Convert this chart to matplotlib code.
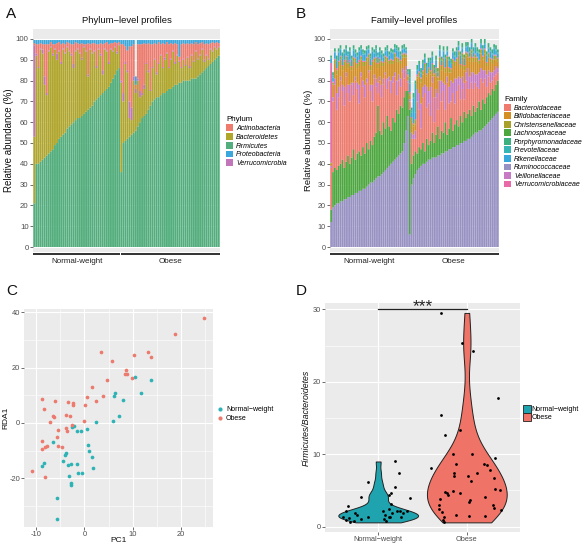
import numpy as np
import matplotlib
matplotlib.use("Agg")
import matplotlib.pyplot as plt
from matplotlib.patches import Patch
from matplotlib.lines import Line2D
import matplotlib.transforms as mtransforms
from matplotlib.ticker import MultipleLocator

plt.rcParams['font.family'] = ['Liberation Sans', 'DejaVu Sans']
plt.rcParams['axes.unicode_minus'] = False

# ------------------------------------------------------------------ data
group_labels = ["Normal-weight", "Obese"]
group_labels_minus = ["Normal\u2212weight", "Obese"]

# ---- Panel A: phylum-level profiles (% per sample; normal-weight then obese)
firmicutes_nw = [21,40,40,41,42,43,44,45,46,47,49,50,52,53,54,55,57,58,59,60,61,62,62,63,64,65,66,67,68,70,71,72,73,74,75,76,77,79,81,83,85,86]
bacteroidetes_nw = [32,52,46,54,51,35,29,49,50,45,46,40,42,35,41,38,39,36,33,26,33,33,31,27,32,29,16,28,25,24,15,23,19,9,20,18,11,16,13,13,8,11]
verrucomicrobia_nw = [44,1,0.5,0.5,2,4,1,0.5,0.5,1,0.5,3,0.5,1,0.5,0.5,0.5,0.5,1,2,0.5,0.5,0.5,1,0.5,0.5,1,0.5,0.5,0.5,1,0.5,1,2,0.5,0.5,1,0.5,0.5,0.5,1,0.5]
actinobacteria_nw = [1,4.5,11,2.5,2.5,15.5,23.5,3,2,4.5,2,5,4,8.5,2.5,4,2,3.5,4.5,9.5,4,2.5,4,7,1,3,15,2,4.5,3.5,10.5,2,5,12.5,2.5,4,8.5,2.5,3.5,2,4,1]
proteobacteria_nw = [1.5,2,2,1.5,2,2,2,2,1,2,2,1.5,1,2,1.5,2,1,1.5,2,2,1,1.5,2,1.5,2,2,1.5,2,1.5,1.5,2,2,1.5,2,1.5,1,2,1.5,1.5,1,1.5,1]

firmicutes_ob = [36,50,51,52,53,54,55,56,58,60,62,63,64,66,68,70,71,72,72,73,74,74,75,76,76,77,78,78,79,79,80,80,80,80,81,81,81,82,83,84,85,86,87,88,89,90,91,92]
bacteroidetes_ob = [43,20,37,32,9,7,25,18,22,12,11,13,24,18,7,16,19,11,16,19,12,16,18,10,14,17,10,14,10,7,10,7,11,6,11,8,13,8,9,11,4,6,3,7,5,6,4,4]
verrucomicrobia_ob = [1,4,1,1,8,6,2,2,1,3,1,2,0.5,1,0.5,0.5,0.5,1,0.5,0.5,0.5,1,0.5,0.5,0.5,0.5,1,0.5,0.5,0.5,0.5,0.5,0.5,1,0.5,0.5,0.5,0.5,0.5,0.5,1,0.5,0.5,0.5,0.5,0.5,0.5,0.5]
actinobacteria_ob = [17.5,23.5,7.5,9.5,26.5,29.5,15.5,2,16.5,22.5,23.5,20,9,13,22,11,7.5,13.5,10,5,11.5,6.5,5,11,7.5,3,9,5,2,11,7.5,10,6.5,10.5,5.5,8,4,7,5.5,3,7.5,5.5,7,2.5,4,1.5,3,1.5]
proteobacteria_ob = [2,2,3,5,3,3,2,4,2,2,2,1.5,2,1.5,2,2,1.5,2,1,2,1.5,2,1,2,1.5,2,1.5,2,8,2,1.5,2,1.5,2,1.5,2,1,2,1.5,1,2,1.5,2,1.5,1,1.5,1,1.5]

phyla = ["Actinobacteria", "Bacteroidetes", "Firmicutes", "Proteobacteria", "Verrucomicrobia"]
phylum_colors = {"Actinobacteria": "#EE7B6E", "Bacteroidetes": "#B0A62C", "Firmicutes": "#52AE7C",
                 "Proteobacteria": "#3AA8DC", "Verrucomicrobia": "#C276BA"}

# ---- Panel B: family-level profiles (% per sample)
ruminococcaceae_nw = [12,19,20,21,21,22,22,23,23,24,24,25,25,26,26,27,27,28,28,29,30,31,31,32,33,34,34,35,36,37,38,39,40,41,42,43,44,45,46,50,56,63]
lachnospiraceae_nw = [6,17,18,16,18,18,20,15,18,20,16,18,22,16,19,19,17,20,17,21,17,20,18,21,22,34,22,19,24,20,25,19,16,21,18,23,20,23,21,22,19,12]
bacteroidaceae_nw = [20,34,40,29,33,40,33,30,41,30,30,35,26,38,31,23,38,29,27,29,37,24,21,28,22,6,24,18,18,26,13,22,18,17,22,7,16,9,17,9,10,4]
veillonellaceae_nw = [1,2,3,8,5,2,3,9,2,4,8,1,6,2,3,9,2,3,6,2,1,3,8,2,4,5,2,6,3,1,5,2,6,3,2,7,3,4,2,4,2,1]
bifidobacteriaceae_nw = [1,6,7,9,10,8,7,10,6,8,9,6,10,7,7,9,6,7,9,8,6,7,9,6,8,7,7,9,6,6,8,6,8,6,7,9,6,7,5,6,4,2]
christensenellaceae_nw = [0.5,1,2,2,2,1.5,2,2,1.5,2,2,1.5,2,1.5,2,2,1.5,2,2,2,1.5,2,2,1.5,2,2,1.5,2,1.5,1.5,2,1.5,2,1.5,2,2,1.5,1.5,1.5,2,1.5,0.5]
verrucomicrobiaceae_nw = [48,0.5,0.5,1,0.5,0.5,0.5,1,0.5,0.5,1,0.5,0.5,0.5,0.5,1,0.5,0.5,0.5,0.5,0.5,0.5,1,0.5,0.5,0.5,0.5,0.5,0.5,0.5,0.5,0.5,0.5,0.5,0.5,0.5,0.5,0.5,0.5,0.5,0.5,0.5]
rikenellaceae_nw = [2,2,3,3,4,3,3,3,3,3,4,3,3,2,3,4,3,3,3,3,2,3,4,2,3,3,3,3,2,2,3,2,3,3,2,3,3,2,2,2,1.5,1]
prevotellaceae_nw = [0.5,1,0.5,1,0.5,0.5,1,0.5,0.5,1,0.5,0.5,1,0.5,0.5,0.5,0.5,1,0.5,0.5,0.5,1,0.5,0.5,1,0.5,0.5,0.5,0.5,0.5,1,0.5,0.5,0.5,0.5,1,0.5,0.5,0.5,0.5,0.5,0.5]
porphyromonadaceae_nw = [1,1.5,1.5,2,1.5,1.5,2,1.5,1.5,1.5,1.5,1.5,1.5,1.5,1.5,1.5,1.5,1.5,1.5,1.5,1.5,1.5,1.5,1.5,1.5,1.5,1.5,1.5,1.5,1.5,1.5,1.5,1.5,1.5,1.5,1.5,1.5,1.5,1.5,1.5,1,1]

ruminococcaceae_ob = [6,30,33,35,37,38,39,40,40,41,42,42,43,43,43,44,44,45,45,46,46,47,47,48,48,49,49,50,50,51,51,52,52,53,54,55,55,56,56,57,58,59,60,61,62,63,64,65]
lachnospiraceae_ob = [60,10,11,11,8,10,8,10,6,11,7,9,12,7,11,14,8,11,10,14,8,10,15,8,11,12,9,13,10,14,11,12,14,10,14,10,12,14,10,14,11,13,14,12,14,12,14,15]
bacteroidaceae_ob = [4,12,8,6,25,18,10,22,28,15,20,12,24,10,18,8,22,14,20,6,25,12,8,18,10,14,20,8,16,6,18,12,10,16,8,14,10,6,15,8,12,5,8,6,4,7,5,4]
veillonellaceae_ob = [1,3,2,4,6,8,12,5,4,10,6,14,3,12,4,8,6,10,4,12,3,8,10,5,12,6,4,10,6,8,4,10,6,5,8,4,6,8,5,6,4,6,3,5,4,3,4,2]
bifidobacteriaceae_ob = [2,6,4,3,5,8,10,6,8,5,9,6,4,10,8,6,9,5,10,6,8,7,4,9,6,8,10,5,9,6,8,5,7,9,5,8,6,4,7,5,8,4,6,5,4,5,3,3]
christensenellaceae_ob = [0.5,1,1,2,1,2,2,1.5,2,1,2,1.5,2,1,2,1.5,2,2,1.5,2,1.5,2,1.5,2,2,1.5,2,1.5,2,2,1.5,2,2,1.5,2,1.5,2,1.5,2,1.5,2,1.5,2,1.5,2,2,2,1.5]
verrucomicrobiaceae_ob = [1,0.5,0.5,0.5,1,0.5,0.5,0.5,0.5,0.5,0.5,0.5,0.5,0.5,0.5,0.5,0.5,0.5,0.5,0.5,0.5,0.5,0.5,0.5,0.5,0.5,0.5,0.5,0.5,0.5,0.5,0.5,0.5,0.5,0.5,0.5,0.5,0.5,0.5,0.5,0.5,0.5,0.5,0.5,0.5,0.5,0.5,0.5]
rikenellaceae_ob = [4,2,12,3,2,3,2,3,2,3,2,4,3,2,3,2,3,2,3,4,2,3,2,3,2,3,2,4,2,3,2,3,2,3,2,3,2,3,2,3,2,3,2,3,2,3,2,2]
prevotellaceae_ob = [3,1,0.5,14,0.5,0.5,0.5,0.5,0.5,0.5,0.5,0.5,0.5,0.5,0.5,0.5,0.5,0.5,0.5,0.5,0.5,0.5,0.5,0.5,0.5,0.5,0.5,0.5,0.5,0.5,0.5,0.5,0.5,0.5,0.5,0.5,0.5,0.5,0.5,0.5,0.5,0.5,0.5,0.5,0.5,0.5,0.5,0.5]
porphyromonadaceae_ob = [4,1.5,2,1.5,2,1.5,2,1.5,2,1.5,2,1.5,2,1.5,2,1.5,2,1.5,2,1.5,2,1.5,2,1.5,2,1.5,2,1.5,2,1.5,2,1.5,2,1.5,2,1.5,2,1.5,2,1.5,2,1.5,2,1.5,2,1.5,2,1.5]

families = ["Bacteroidaceae", "Bifidobacteriaceae", "Christensenellaceae", "Lachnospiraceae",
            "Porphyromonadaceae", "Prevotellaceae", "Rikenellaceae", "Ruminococcaceae",
            "Veillonellaceae", "Verrucomicrobiaceae"]
family_colors = {"Bacteroidaceae": "#EE7B6E", "Bifidobacteriaceae": "#D48E22",
                 "Christensenellaceae": "#A8A22C", "Lachnospiraceae": "#4CA83E",
                 "Porphyromonadaceae": "#3DB07F", "Prevotellaceae": "#35B5B6",
                 "Rikenellaceae": "#36A8DC", "Ruminococcaceae": "#9892C4",
                 "Veillonellaceae": "#C77BC4", "Verrucomicrobiaceae": "#E86AA8"}

# ---- Panel C: ordination (PC1 vs RDA1)
pc1_nw = [10.4,13.7,11.8,7.9,6.4,6.2,7.1,5.9,2.3,0.5,-0.7,-1.6,-2.1,-2.5,-6.6,-8.4,-8.8,-4.5,-4.0,-3.8,-3.5,-2.7,-1.6,0.7,0.9,1.6,1.8,-3.2,-1.4,-0.5,-2.8,-2.7,-5.7,-5.7]
rda1_nw = [16.8,15.6,10.8,8.4,10.8,9.8,2.4,0.7,0.2,-2.3,-2.9,-3.0,-1.2,-1.6,-6.8,-14.4,-15.7,-13.8,-11.6,-10.7,-15.1,-15.0,-14.8,-8.0,-10.2,-12.4,-16.2,-19.1,-18.2,-18.2,-21.6,-22.3,-27.0,-34.6]
pc1_ob = [24.7,18.8,13.2,13.8,10.3,3.5,5.7,8.6,8.4,8.9,9.8,4.7,1.6,3.8,2.3,0.6,0.1,0.0,-2.3,-2.3,-3.5,-6.0,-8.8,-8.4,-6.6,-6.2,-7.2,-3.8,-2.9,-3.9,-3.6,-2.5,-5.4,-5.7,-8.7,-8.7,-8.2,-7.7,-5.5,-4.7,-10.9,-8.2]
rda1_ob = [37.8,32.0,25.8,23.9,24.7,25.6,22.4,19.2,17.6,17.7,16.4,15.7,13.0,9.6,8.0,9.4,6.4,0.6,7.2,6.6,7.6,7.9,8.6,5.2,2.5,2.2,0.2,2.8,2.4,-1.9,-2.9,-0.7,-2.6,-5.2,-6.6,-9.4,-8.8,-8.2,-8.2,-8.6,-17.2,-19.4]

# ---- Panel D: Firmicutes/Bacteroidetes ratio (jittered x position, ratio)
fb_x_nw = [1.19,1.23,0.88,1.19,0.81,1.15,1.12,1.36,1.15,0.66,1.12,1.05,0.64,1.21,1.25,1.32,1.16,0.74,0.76,0.60,0.89,1.12,1.26,0.67,0.81,1.06,0.64,1.09,0.73,0.68,1.13,1.08,1.28]
fb_nw = [9.0,7.45,6.2,5.5,4.05,4.6,4.4,3.9,3.2,2.8,2.4,2.2,2.2,2.2,2.1,2.1,1.85,1.85,1.55,1.4,1.3,1.3,1.3,1.15,1.05,1.1,0.9,0.85,0.75,0.6,1.4,1.6,1.85]
fb_x_ob = [1.71,1.94,2.07,2.35,1.71,1.75,1.92,1.84,2.06,1.60,2.32,1.88,2.19,2.23,1.86,1.85,2.12,2.01,2.26,2.05,2.31,1.75,1.78,1.84,1.92,1.79,2.32,2.37,2.20,1.70,1.69,1.69,1.72,2.03,2.04,2.30,2.31,2.39,1.88,2.02,2.21,1.73,1.74,1.74]
fb_ob = [29.5,25.4,24.25,17.7,15.4,12.65,13.3,10.1,10.0,8.05,9.55,8.6,8.65,8.45,7.45,7.0,7.45,7.0,7.8,6.35,6.75,4.75,4.6,4.9,4.6,4.35,5.15,5.05,4.05,3.8,3.0,2.5,2.05,3.45,3.7,3.0,2.65,2.3,1.6,1.45,1.45,0.9,0.6,1.3]
group_colors_c = ["#2DB3B5", "#EC7A6D"]
group_colors_d = ["#1FA4AF", "#EF7366"]

# ------------------------------------------------------------------ style helpers
W, H = 585, 546
fig = plt.figure(figsize=(W / 100, H / 100), dpi=100)
PANEL_BG = "#EBEBEB"
TICK_COL = "#4D4D4D"


def fr(x0, y0, x1, y1):
    """pixel box (left, top, right, bottom) -> figure fraction rect"""
    return [x0 / W, 1 - y1 / H, (x1 - x0) / W, (y1 - y0) / H]


def gg_axes(rect, labelsize=5.6):
    ax = fig.add_axes(rect)
    ax.set_facecolor(PANEL_BG)
    for s in ax.spines.values():
        s.set_visible(False)
    ax.set_axisbelow(True)
    ax.tick_params(which='major', length=2, width=0.5, color='#333333', labelcolor=TICK_COL,
                   labelsize=labelsize, pad=1.2)
    ax.tick_params(which='minor', length=0)
    return ax


def grid(ax, axis='both'):
    ax.grid(which='major', axis=axis, color='white', lw=0.8)
    ax.grid(which='minor', axis=axis, color='white', lw=0.4)


# ------------------------------------------------------------------ stacked bar panels
def stacked_panel(ax, series, colors, order, n_nw):
    n = len(series[order[0]])
    x = np.arange(n)
    bottom = np.zeros(n)
    for name in order:
        vals = np.asarray(series[name], dtype=float)
        bars = ax.bar(x, vals, bottom=bottom, width=0.9, color=colors[name], linewidth=0)
        for b in bars:
            b.set_snap(False)
        bottom += vals
    ax.set_xlim(-0.6, n - 0.4)
    ax.set_ylim(-2.4, 104.8)
    ax.yaxis.set_major_locator(MultipleLocator(10))
    ax.yaxis.set_minor_locator(MultipleLocator(5))
    ax.set_xticks([])
    grid(ax, 'y')
    tr = mtransforms.blended_transform_factory(ax.transData, ax.transAxes)
    spans = [(-0.45, n_nw - 0.7), (n_nw - 0.3, n - 0.55)]
    for (a, b), lab in zip(spans, group_labels):
        ax.plot([a, b], [-0.011, -0.011], transform=tr, color='#222222', lw=1.3,
                clip_on=False, solid_capstyle='butt')
        ax.text((a + b) / 2, -0.026, lab, transform=tr, ha='center', va='top',
                fontsize=5.8, color='#222222')
    ax.set_ylabel("Relative abundance (%)", fontsize=7, labelpad=1.5, color='#111111')


axA = gg_axes(fr(33, 29, 220, 252))
phylum_series = {
    "Firmicutes": firmicutes_nw + firmicutes_ob,
    "Bacteroidetes": bacteroidetes_nw + bacteroidetes_ob,
    "Verrucomicrobia": verrucomicrobia_nw + verrucomicrobia_ob,
    "Actinobacteria": actinobacteria_nw + actinobacteria_ob,
    "Proteobacteria": proteobacteria_nw + proteobacteria_ob,
}
stacked_panel(axA, phylum_series, phylum_colors,
              ["Firmicutes", "Bacteroidetes", "Verrucomicrobia", "Actinobacteria", "Proteobacteria"],
              len(firmicutes_nw))
axA.set_title("Phylum\u2212level profiles", fontsize=6.8, pad=4, color='#111111')
fig.legend(handles=[Patch(facecolor=phylum_colors[p], edgecolor='none', label=p) for p in phyla],
           loc='upper left', bbox_to_anchor=(226 / W, 1 - 116 / H), frameon=False,
           title="Phylum", title_fontsize=5.8, prop={'size': 5.0, 'style': 'italic'},
           handlelength=1.05, handleheight=1.15, labelspacing=0.15, handletextpad=0.4,
           borderpad=0, borderaxespad=0, alignment='left')

axB = gg_axes(fr(330, 29, 499, 252), labelsize=5.2)
family_series = {
    "Ruminococcaceae": ruminococcaceae_nw + ruminococcaceae_ob,
    "Lachnospiraceae": lachnospiraceae_nw + lachnospiraceae_ob,
    "Bacteroidaceae": bacteroidaceae_nw + bacteroidaceae_ob,
    "Veillonellaceae": veillonellaceae_nw + veillonellaceae_ob,
    "Bifidobacteriaceae": bifidobacteriaceae_nw + bifidobacteriaceae_ob,
    "Christensenellaceae": christensenellaceae_nw + christensenellaceae_ob,
    "Verrucomicrobiaceae": verrucomicrobiaceae_nw + verrucomicrobiaceae_ob,
    "Rikenellaceae": rikenellaceae_nw + rikenellaceae_ob,
    "Prevotellaceae": prevotellaceae_nw + prevotellaceae_ob,
    "Porphyromonadaceae": porphyromonadaceae_nw + porphyromonadaceae_ob,
}
stacked_panel(axB, family_series, family_colors,
              ["Ruminococcaceae", "Lachnospiraceae", "Bacteroidaceae", "Veillonellaceae",
               "Bifidobacteriaceae", "Christensenellaceae", "Verrucomicrobiaceae",
               "Rikenellaceae", "Prevotellaceae", "Porphyromonadaceae"],
              len(ruminococcaceae_nw))
axB.yaxis.label.set_fontsize(6.8)
axB.yaxis.labelpad = 0.3
axB.set_title("Family\u2212level profiles", fontsize=6.8, pad=4, color='#111111')
fig.legend(handles=[Patch(facecolor=family_colors[f], edgecolor='none', label=f) for f in families],
           loc='upper left', bbox_to_anchor=(504 / W, 1 - 96 / H), frameon=False,
           title="Family", title_fontsize=5.8, prop={'size': 5.0, 'style': 'italic'},
           handlelength=1.05, handleheight=1.1, labelspacing=0.12, handletextpad=0.4,
           borderpad=0, borderaxespad=0, alignment='left')

# ------------------------------------------------------------------ Panel C
axC = gg_axes(fr(24, 309, 213, 527), labelsize=5.4)
axC.scatter(pc1_nw, rda1_nw, s=7, color=group_colors_c[0], linewidths=0, zorder=3)
axC.scatter(pc1_ob, rda1_ob, s=7, color=group_colors_c[1], linewidths=0, zorder=3)
axC.set_xlim(-12.5, 26.6)
axC.set_ylim(-37.6, 41.2)
axC.xaxis.set_major_locator(MultipleLocator(10))
axC.xaxis.set_minor_locator(MultipleLocator(5))
axC.yaxis.set_major_locator(MultipleLocator(20))
axC.yaxis.set_minor_locator(MultipleLocator(10))
grid(axC)
axC.tick_params(axis='x', pad=0.6)
axC.tick_params(axis='y', pad=0.8)
axC.set_xlabel("PC1", fontsize=6.0, labelpad=-0.5, color='#111111')
axC.set_ylabel("RDA1", fontsize=6.0, labelpad=0.0, color='#111111')
fig.legend(handles=[Line2D([], [], ls='none', marker='o', ms=3, mew=0, color=c, label=l)
                    for c, l in zip(group_colors_c, group_labels_minus)],
           loc='upper left', bbox_to_anchor=(217 / W, 1 - 406 / H), frameon=False,
           prop={'size': 5.0}, handlelength=1.0, handletextpad=0.3, labelspacing=0.3,
           borderpad=0, borderaxespad=0)

# ------------------------------------------------------------------ Panel D
axD = gg_axes(fr(325, 303, 520, 532), labelsize=5.3)


def nrd0_factor(kde):
    x = np.asarray(kde.dataset).ravel()
    sd = x.std(ddof=1)
    q75, q25 = np.percentile(x, [75, 25])
    lo = min(sd, (q75 - q25) / 1.34)
    return 0.9 * lo * len(x) ** -0.2 / sd


def nrd0_factor_wide(kde):
    return 1.5 * nrd0_factor(kde)


vp1 = axD.violinplot([fb_nw], positions=[1], widths=0.9, showextrema=False,
                     bw_method=nrd0_factor, points=200)
vp2 = axD.violinplot([fb_ob], positions=[2], widths=0.9, showextrema=False,
                     bw_method=nrd0_factor_wide, points=200)
for body, c in zip(vp1['bodies'] + vp2['bodies'], group_colors_d):
    body.set_facecolor(c)
    body.set_edgecolor('#222222')
    body.set_linewidth(0.7)
    body.set_alpha(1)
    body.set_zorder(2)
axD.scatter(fb_x_nw, fb_nw, s=4, color='black', linewidths=0, zorder=3)
axD.scatter(fb_x_ob, fb_ob, s=4, color='black', linewidths=0, zorder=3)
axD.set_xlim(0.4, 2.6)
axD.set_ylim(-0.73, 30.87)
axD.set_xticks([1, 2])
axD.set_xticklabels(group_labels_minus, fontsize=5.3)
axD.yaxis.set_major_locator(MultipleLocator(10))
axD.yaxis.set_minor_locator(MultipleLocator(5))
grid(axD)
axD.plot([1, 2], [30, 30], color='#222222', lw=0.9, zorder=4, clip_on=False)
axD.text(1.5, 29.4, "***", ha='center', va='bottom', fontsize=12.5, color='#222222', clip_on=False)
axD.set_ylabel("Firmicutes/Bacteroidetes", fontsize=6.3, style='italic', labelpad=1, color='#111111')
fig.legend(handles=[Patch(facecolor=c, edgecolor='#222222', lw=0.6, label=l)
                    for c, l in zip(group_colors_d, group_labels_minus)],
           loc='upper left', bbox_to_anchor=(523 / W, 1 - 405 / H), frameon=False,
           prop={'size': 5.0}, handlelength=1.1, handleheight=1.3, handletextpad=0.15,
           labelspacing=0.0, borderpad=0, borderaxespad=0)

# ------------------------------------------------------------------ panel letters
for lab, (px, py) in zip("ABCD", [(6, 14), (296, 14), (6, 291), (296, 291)]):
    fig.text(px / W, 1 - py / H, lab, fontsize=11, ha='left', va='center', color='#111111')

fig.savefig("out.png", dpi=100)
